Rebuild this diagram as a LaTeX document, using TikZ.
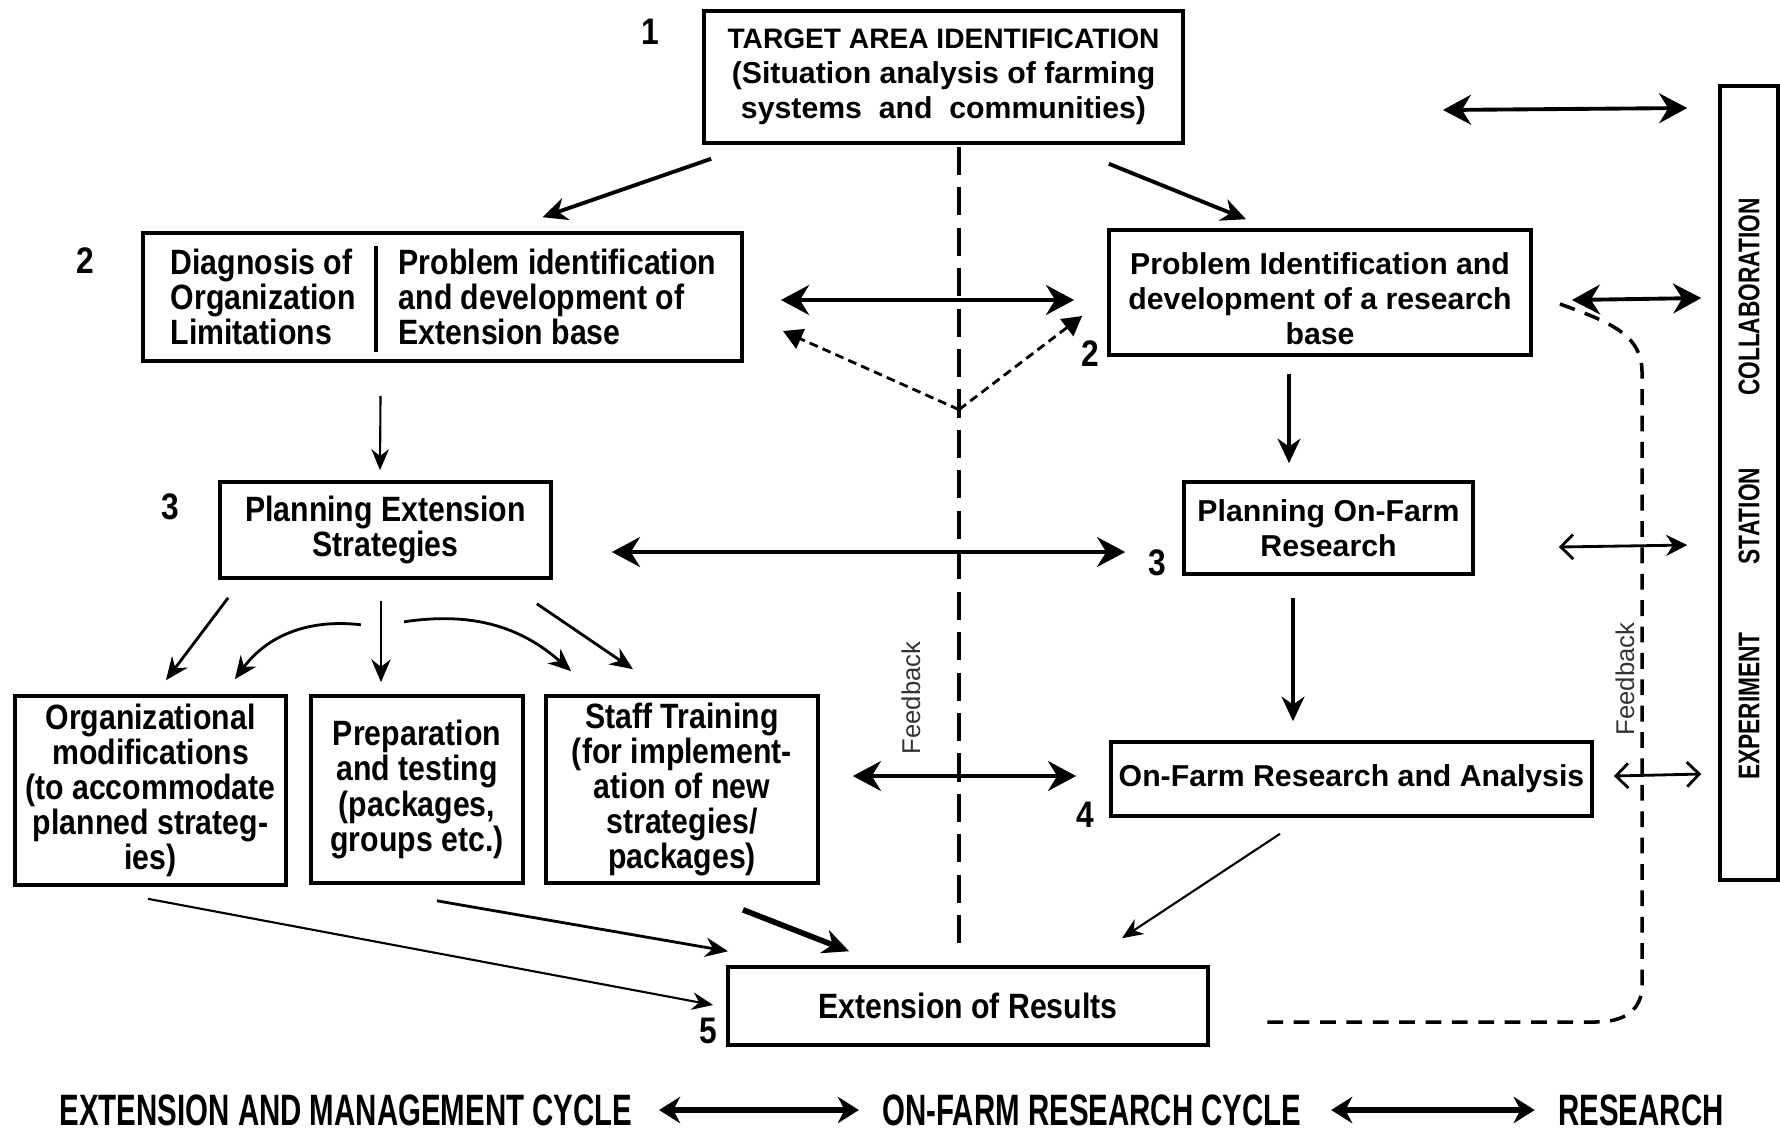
\documentclass[tikz,border=0pt]{standalone}
\usepackage{fontspec}
\setmainfont{Liberation Sans}
\newfontfamily\condfont[FakeStretch=0.86]{Liberation Sans}
\newfontfamily\cyclefam[FakeStretch=0.67]{Liberation Sans}
\newfontfamily\stationfam[FakeStretch=0.76]{Liberation Sans}
\usetikzlibrary{arrows.meta,calc,positioning}
\newcommand{\boxfont}{\fontsize{8.6}{10}\selectfont\bfseries}
\newcommand{\condboxfont}{\condfont\fontsize{10}{10}\selectfont\bfseries}
\newcommand{\cyclefont}{\cyclefam\fontsize{12.5}{13}\selectfont\bfseries}
\newcommand{\stationfont}{\stationfam\fontsize{8.5}{9}\selectfont\bfseries}
\newcommand{\numfont}{\condfont\fontsize{10.5}{11}\selectfont\bfseries}
\newcommand{\fbfont}{\fontsize{7.3}{8}\selectfont}
\tikzset{%
	box/.style      = {draw, rectangle, line width=1pt, inner sep=1pt, align=center, font=\boxfont},
	condbox/.style  = {box, font=\condboxfont},
	condtext/.style = {align=left, inner sep=0pt, font=\condboxfont},
	vert/.style     = {rotate=90, inner sep=0pt, font=\stationfont},
	num/.style      = {inner sep=0pt, font=\numfont},
	fb/.style       = {rotate=90, inner sep=0pt, font=\fbfont, text=black!80},
	cycle/.style    = {inner sep=0pt, font=\cyclefont},
	thinflow/.style = {line width=0.6pt, -{Stealth[length=6pt, width=5pt]}},
	midflow/.style  = {line width=0.8pt, -{Stealth[length=6.5pt, width=5.5pt]}},
	flow/.style     = {line width=1.1pt, -{Stealth[length=7pt, width=6.5pt]}},
	heavyflow/.style= {line width=1.6pt, -{Stealth[length=7.5pt, width=7pt]}},
	link/.style     = {line width=1.1pt, {Stealth[length=8pt, width=8.5pt]}-{Stealth[length=8pt, width=8.5pt]}},
	barblink/.style = {line width=0.8pt, {Straight Barb[length=3.5pt, width=7pt]}-{Straight Barb[length=3.5pt, width=7pt]}},
	halflink/.style = {line width=0.8pt, {Straight Barb[length=3.5pt, width=7pt]}-{Stealth[length=6pt, width=6pt]}},
	biglink/.style  = {line width=1.8pt, {Stealth[length=6pt, width=7.5pt]}-{Stealth[length=6pt, width=7.5pt]}},
	divide/.style   = {line width=1pt, dash pattern=on 8pt off 3.5pt},
	vflow/.style    = {line width=0.8pt, dash pattern=on 2.5pt off 1.5pt, -{Triangle[length=5.5pt, width=6pt]}},
	fbline/.style   = {line width=1pt, dash pattern=on 4.5pt off 3pt},
}

\begin{document}
\begin{tikzpicture}[x=0.01cm, y=-0.01cm]
	\useasboundingbox (0,0) rectangle (1780,1130);

	% boxes
	\node[box, minimum width=4.79cm, minimum height=1.32cm] (target) at (943.5,77) {{\fontsize{8}{10}\selectfont TARGET AREA IDENTIFICATION}\\(Situation analysis of farming\\systems\ \ and\ \ communities)};
	\node[box, minimum width=5.99cm, minimum height=1.28cm] (diag) at (442.5,297) {};
	\node[condtext, anchor=west] (diaglim) at (170,297) {Diagnosis of\\Organization\\Limitations};
	\node[condtext, anchor=west] (diagext) at (398,297) {Problem identification\\and development of\\Extension base};
	\coordinate (divtop) at (376,246);
	\coordinate (divbot) at (376,352);
	\draw[line width=1pt] (divtop) -- (divbot);
	\node[box, minimum width=4.22cm, minimum height=1.25cm] (rbase) at (1320,292.5) {\rule{0pt}{9.7pt}Problem Identification and\\development of a research\\base};
	\node[condbox, minimum width=3.31cm, minimum height=0.96cm] (pes) at (385.5,530) {Planning Extension\\Strategies};
	\node[box, minimum width=2.89cm, minimum height=0.92cm] (pofr) at (1328.5,528) {Planning On-Farm\\Research};
	\node[box, minimum width=4.81cm, minimum height=0.74cm] (ofra) at (1351.5,779) {On-Farm Research and Analysis};
	\node[condbox, minimum width=4.80cm, minimum height=0.78cm] (ext) at (968,1006) {Extension of Results};
	\node[condbox, minimum width=2.71cm, minimum height=1.89cm] (orgmod) at (150.5,790.5) {Organizational\\modifications\\(to accommodate\\planned strateg-\\ies)};
	\node[condbox, minimum width=2.12cm, minimum height=1.87cm] (prep) at (417,789.5) {Preparation\\and testing\\(packages,\\groups etc.)};
	\node[condbox, minimum width=2.72cm, minimum height=1.87cm] (staff) at (682,789.5) {Staff Training\\(for implement-\\ation of new\\strategies/\\packages)};
	\node[box, minimum width=0.58cm, minimum height=7.94cm] (station) at (1749,483) {};
	\node[vert] (exper) at (1749,706) {EXPERIMENT};
	\node[vert] (stat) at (1749,516) {STATION};
	\node[vert] (collab) at (1749,297) {COLLABORATION};

	% step numbers
	\node[num] (n1) at (650,32) {1};
	\node[num] (n2l) at (85,261) {2};
	\node[num] (n2r) at (1090,354) {2};
	\node[num] (n3l) at (170,507) {3};
	\node[num] (n3r) at (1157,563) {3};
	\node[num] (n4) at (1085,815) {4};
	\node[num] (n5) at (708,1031) {5};

	% main flow
	\draw[flow] ([shift={(9,14)}]target.south west) -- ([shift={(100,-14)}]diag.north);
	\draw[flow] ([shift={(-76,19)}]target.south east) -- ([shift={(-74,-9)}]rbase.north);
	\draw[thinflow] ([shift={(-62,33)}]diag.south) -- ([shift={(-5.5,-10)}]pes.north);
	\draw[flow] ([shift={(-31,17)}]rbase.south) -- ([shift={(-39.5,-17)}]pofr.north);
	\draw[flow] ([shift={(-35.5,22)}]pofr.south) -- ([shift={(-58.5,-19)}]ofra.north);
	\draw[thinflow] ([shift={(-71.5,16)}]ofra.south) -- ([shift={(-88,-27)}]ext.north east);
	\draw[midflow] ([shift={(10,18)}]pes.south west) -- ([shift={(15.5,-14)}]orgmod.north);
	\draw[midflow] ([shift={(-24.5,45)}]pes.south) to[bend right=30] ([shift={(-53,-15)}]orgmod.north east);
	\draw[midflow] ([shift={(-4.5,21)}]pes.south) -- ([shift={(-36,-12)}]prep.north);
	\draw[midflow] ([shift={(18.5,42)}]pes.south) to[bend left=25] ([shift={(27,-23)}]staff.north west);
	\draw[midflow] ([shift={(-16,24)}]pes.south east) -- ([shift={(-49,-25)}]staff.north);
	\draw[thinflow] ([shift={(-2.5,12)}]orgmod.south) -- ([shift={(-13,-1)}]ext.west);
	\draw[midflow] ([shift={(20,16)}]prep.south) -- ([shift={(2,-14)}]ext.north west);
	\draw[heavyflow] ([shift={(61,25)}]staff.south) -- ([shift={(123,-14)}]ext.north west);

	% links between the cycles
	\draw[link] ([shift={(37,3)}]diag.east) -- ([shift={(-33,7.5)}]rbase.west);
	\draw[link] ([shift={(59,22)}]pes.east) -- ([shift={(-57,24)}]pofr.west);
	\draw[link, line width=0.9pt] ([shift={(33,-13.5)}]staff.east) -- ([shift={(-33,-3)}]ofra.west);
	\draw[link] ([shift={(258,33)}]target.east) -- ([shift={(-31,24)}]station.north west);
	\draw[link] ([shift={(39,7.5)}]rbase.east) -- ([shift={(-17,214)}]station.north west);
	\draw[halflink] ([shift={(84,19)}]pofr.east) -- ([shift={(-31,461)}]station.north west);
	\draw[barblink] ([shift={(20,-3)}]ofra.east) -- ([shift={(-17,690)}]station.north west);

	% dividing line and feedback
	\coordinate (midtop) at ([shift={(15.5,2)}]target.south);
	\coordinate (midbot) at ([shift={(-9,-14)}]ext.north);
	\draw[divide] (midtop) -- (midbot);
	\coordinate (vtip) at ($(midtop)!0.3267!(midbot)$);
	\draw[vflow] (vtip) -- ([shift={(39,34)}]diag.east);
	\draw[vflow] (vtip) -- ([shift={(-25,23.5)}]rbase.west);
	\node[fb] (fbleft) at (911,698) {Feedback};
	\coordinate (fbstart) at ([shift={(27,11.5)}]rbase.east);
	\coordinate (fbend) at ([shift={(49,16)}]ext.east);
	\draw[fbline] (fbstart) .. controls (1610,322) and (1642,335) .. (1642,372) -- (1642,985) .. controls (1642,1010) and (1625,1022) .. (1595,1022) -- (fbend);
	\node[fb] (fbright) at (1625,679) {Feedback};

	% cycles
	\node[cycle] (emcycle) at (346,1110) {EXTENSION AND MANAGEMENT CYCLE};
	\node[cycle] (ofcycle) at (1092,1110) {ON-FARM RESEARCH CYCLE};
	\node[cycle] (rescycle) at (1641,1110) {RESEARCH};
	\draw[biglink] ([shift={(26,0)}]emcycle.east) -- ([shift={(-23,0)}]ofcycle.west);
	\draw[biglink] ([shift={(29,0)}]ofcycle.east) -- ([shift={(-23,0)}]rescycle.west);
\end{tikzpicture}
\end{document}
